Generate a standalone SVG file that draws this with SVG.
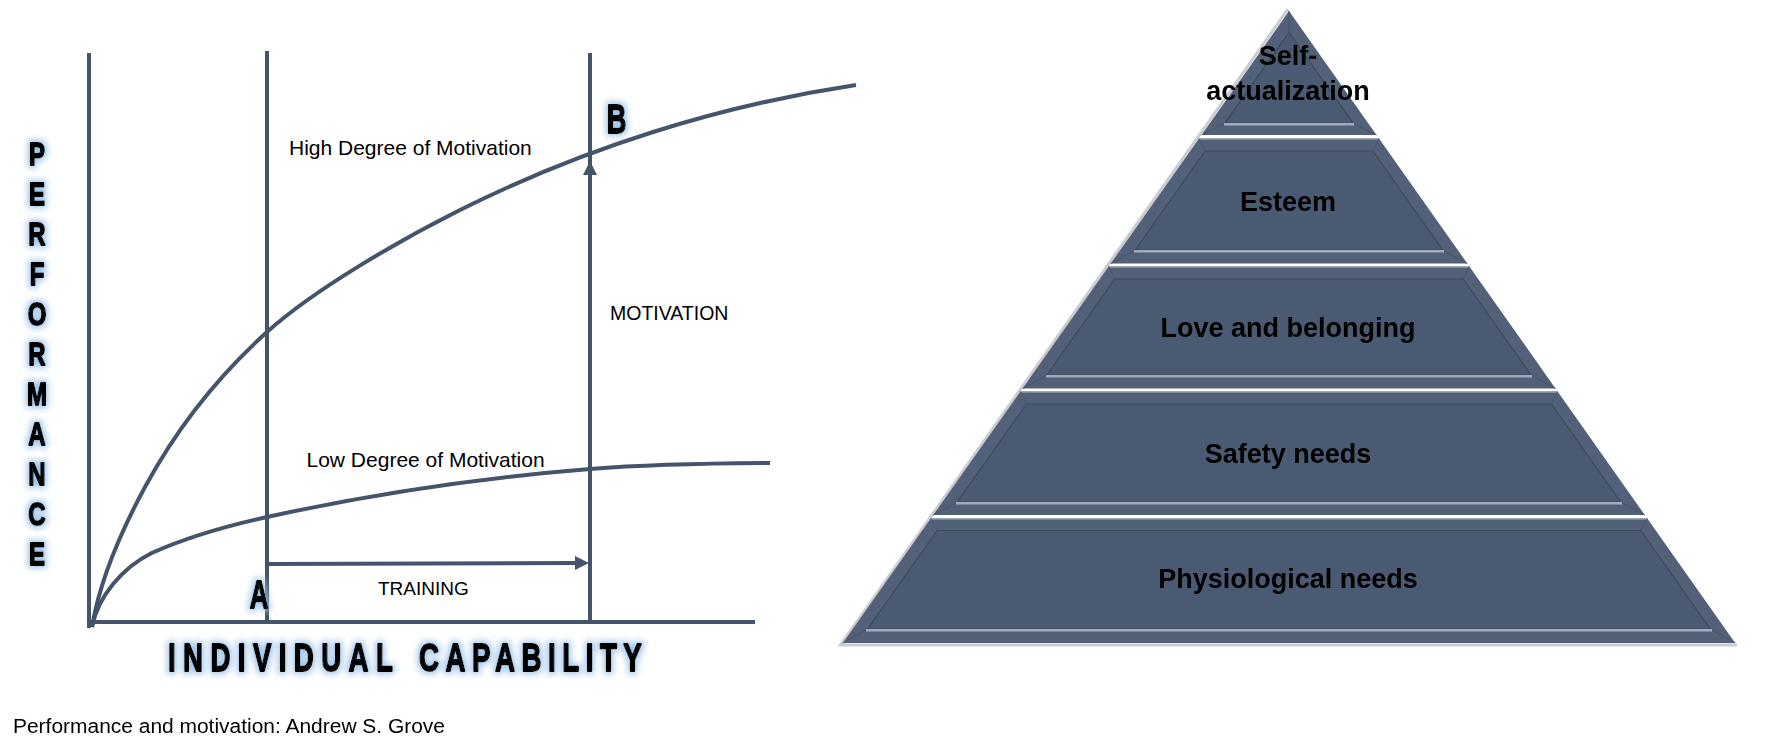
<svg xmlns="http://www.w3.org/2000/svg" width="1782" height="754" viewBox="0 0 1782 754">
<style>
.ln{stroke:#44546a;stroke-width:4;fill:none;stroke-linejoin:round;stroke-linecap:butt}
.lbl{font-family:"Liberation Sans",Arial,sans-serif;fill:#000}
.imp{font-family:"Liberation Sans",Arial,sans-serif;font-weight:bold;fill:#000;stroke:#000;stroke-width:1.8;stroke-linejoin:round}
.pt{font-family:"Liberation Sans",Arial,sans-serif;font-weight:bold;font-size:27px;fill:#000;text-anchor:middle}
.outer{fill:#536178}
.inner{fill:#4a5a72;stroke:#3c495d;stroke-width:1.2}
.hi{stroke:#a0abbd;stroke-width:2.5;fill:none}
.toph{stroke:#7d8a9f;stroke-width:1.2;fill:none}
.mit{stroke:#46556c;stroke-width:1;fill:none}
</style>
<defs>
<filter id="glow" x="-60%" y="-40%" width="220%" height="180%">
<feMorphology in="SourceAlpha" operator="dilate" radius="2" result="d"/>
<feGaussianBlur in="d" stdDeviation="3" result="b"/>
<feFlood flood-color="#9ec3e8" flood-opacity="0.95"/>
<feComposite in2="b" operator="in" result="g"/>
<feMerge><feMergeNode in="g"/><feMergeNode in="SourceGraphic"/></feMerge>
</filter>
<marker id="arr" markerUnits="userSpaceOnUse" markerWidth="14" markerHeight="14" viewBox="0 0 14 14" refX="1" refY="7" orient="auto">
<path d="M0,0 L14,7 L0,14 z" fill="#44546a"/>
</marker>
</defs>
<rect width="1782" height="754" fill="#fff"/>

<g id="chart">
<line class="ln" x1="89" y1="53" x2="89" y2="628"/>
<line class="ln" x1="87" y1="622" x2="755" y2="622"/>
<line class="ln" x1="267" y1="51" x2="267" y2="622"/>
<line class="ln" x1="590" y1="53" x2="590" y2="622"/>
</g>

<g id="curve-high">
<path class="ln" d="M92,627 C100.2,577.7 121.2,531 145,487 C176.3,429.2 218.2,375.9 267,332 C315.3,288.5 401.9,239.1 460,210 C583.4,148.3 719.5,105.4 856,85"/>
<text class="lbl" x="289" y="155" font-size="21">High Degree of Motivation</text>
</g>

<g id="curve-low">
<path class="ln" d="M92,627 C98.3,595.6 123.1,567.3 151.7,553 C188.2,536.6 227.9,525.6 267,517 C373.5,493.6 481.3,477.7 590,469 C650,464.2 710,463.3 770,463"/>
<text class="lbl" x="306.5" y="466.5" font-size="21">Low Degree of Motivation</text>
</g>

<g id="connectors">
<line class="ln" x1="265" y1="564" x2="576" y2="563" marker-end="url(#arr)"/>
<line class="ln" x1="590" y1="622" x2="590" y2="174" marker-end="url(#arr)"/>
</g>

<g id="labels">
<text class="lbl" x="378" y="595" font-size="19">TRAINING</text>
<text class="lbl" x="610" y="320" font-size="19.5">MOTIVATION</text>
<g filter="url(#glow)">
<text class="imp" font-size="39" text-anchor="middle" transform="translate(259,608) scale(0.66,1)">A</text>
<text class="imp" font-size="40" text-anchor="middle" transform="translate(616.5,133) scale(0.68,1)">B</text>
<text class="imp" font-size="39" letter-spacing="10.4" transform="translate(168,671) scale(0.71,1)">INDIVIDUAL</text>
<text class="imp" font-size="39" letter-spacing="9.2" transform="translate(419,671) scale(0.71,1)">CAPABILITY</text>
<g class="imp" font-size="32" text-anchor="middle" transform="translate(37,0) scale(0.75,1)">
<text x="0" y="165">P</text>
<text x="0" y="205">E</text>
<text x="0" y="245">R</text>
<text x="0" y="285">F</text>
<text x="0" y="325">O</text>
<text x="0" y="365">R</text>
<text x="0" y="405">M</text>
<text x="0" y="445">A</text>
<text x="0" y="485">N</text>
<text x="0" y="525">C</text>
<text x="0" y="565">E</text>
</g>
</g>
<text class="lbl" x="13" y="733" font-size="20" textLength="432" lengthAdjust="spacingAndGlyphs">Performance and motivation: Andrew S. Grove</text>
</g>

<g id="pyramid-shadow">
<polyline points="1288,9 840.5,645 1737,645" fill="none" stroke="#c9cdd3" stroke-width="3"/>
</g>

<g id="level-self-actualization">
<polygon class="outer" points="1289,11 1376.5,135 1201.5,135"/>
<polygon class="inner" points="1289,32.5 1353.1,123 1224.9,123"/>
<line class="mit" x1="1289" y1="11" x2="1289" y2="32.5"/>
<line class="mit" x1="1201.5" y1="135" x2="1224.9" y2="123"/>
<line class="mit" x1="1376.5" y1="135" x2="1353.1" y2="123"/>
<line class="hi" x1="1224" y1="124.3" x2="1354" y2="124.3"/>
<text class="pt" x="1288" y="65">Self-</text>
<text class="pt" x="1288" y="100">actualization</text>
</g>

<g id="level-esteem">
<polygon class="outer" points="1199,138.5 1379,138.5 1467.3,263.5 1110.7,263.5"/>
<line class="toph" x1="1199" y1="139.3" x2="1379" y2="139.3"/>
<polygon class="inner" points="1205.2,151 1372.8,151 1442.7,250 1135.3,250"/>
<line class="mit" x1="1199" y1="138.5" x2="1205.2" y2="151"/>
<line class="mit" x1="1379" y1="138.5" x2="1372.8" y2="151"/>
<line class="mit" x1="1110.7" y1="263.5" x2="1135.3" y2="250"/>
<line class="mit" x1="1467.3" y1="263.5" x2="1442.7" y2="250"/>
<line class="hi" x1="1134" y1="251.3" x2="1444" y2="251.3"/>
<text class="pt" x="1288" y="210.5">Esteem</text>
</g>

<g id="level-love">
<polygon class="outer" points="1108.6,266.5 1469.4,266.5 1555.5,388.5 1022.5,388.5"/>
<line class="toph" x1="1108.6" y1="267.3" x2="1469.4" y2="267.3"/>
<polygon class="inner" points="1114.8,279 1463.2,279 1531,375 1047,375"/>
<line class="mit" x1="1108.6" y1="266.5" x2="1114.8" y2="279"/>
<line class="mit" x1="1469.4" y1="266.5" x2="1463.2" y2="279"/>
<line class="mit" x1="1022.5" y1="388.5" x2="1047" y2="375"/>
<line class="mit" x1="1555.5" y1="388.5" x2="1531" y2="375"/>
<line class="hi" x1="1046" y1="376.3" x2="1532" y2="376.3"/>
<text class="pt" x="1288" y="337">Love and belonging</text>
</g>

<g id="level-safety">
<polygon class="outer" points="1020.4,391.5 1557.6,391.5 1644.8,515 933.2,515"/>
<line class="toph" x1="1020.4" y1="392.3" x2="1557.6" y2="392.3"/>
<polygon class="inner" points="1026.5,404 1551.5,404 1620.6,502 957.4,502"/>
<line class="mit" x1="1020.4" y1="391.5" x2="1026.5" y2="404"/>
<line class="mit" x1="1557.6" y1="391.5" x2="1551.5" y2="404"/>
<line class="mit" x1="933.2" y1="515" x2="957.4" y2="502"/>
<line class="mit" x1="1644.8" y1="515" x2="1620.6" y2="502"/>
<line class="hi" x1="956" y1="503.3" x2="1622" y2="503.3"/>
<text class="pt" x="1288" y="463">Safety needs</text>
</g>

<g id="level-physiological">
<polygon class="outer" points="930.7,518.5 1647.3,518.5 1735.2,643 842.8,643"/>
<line class="toph" x1="930.7" y1="519.3" x2="1647.3" y2="519.3"/>
<polygon class="inner" points="937.2,530.5 1640.8,530.5 1710.3,629 867.7,629"/>
<line class="mit" x1="930.7" y1="518.5" x2="937.2" y2="530.5"/>
<line class="mit" x1="1647.3" y1="518.5" x2="1640.8" y2="530.5"/>
<line class="mit" x1="842.8" y1="643" x2="867.7" y2="629"/>
<line class="mit" x1="1735.2" y1="643" x2="1710.3" y2="629"/>
<line class="hi" x1="866" y1="630.3" x2="1712" y2="630.3"/>
<text class="pt" x="1288" y="588">Physiological needs</text>
</g>
</svg>
